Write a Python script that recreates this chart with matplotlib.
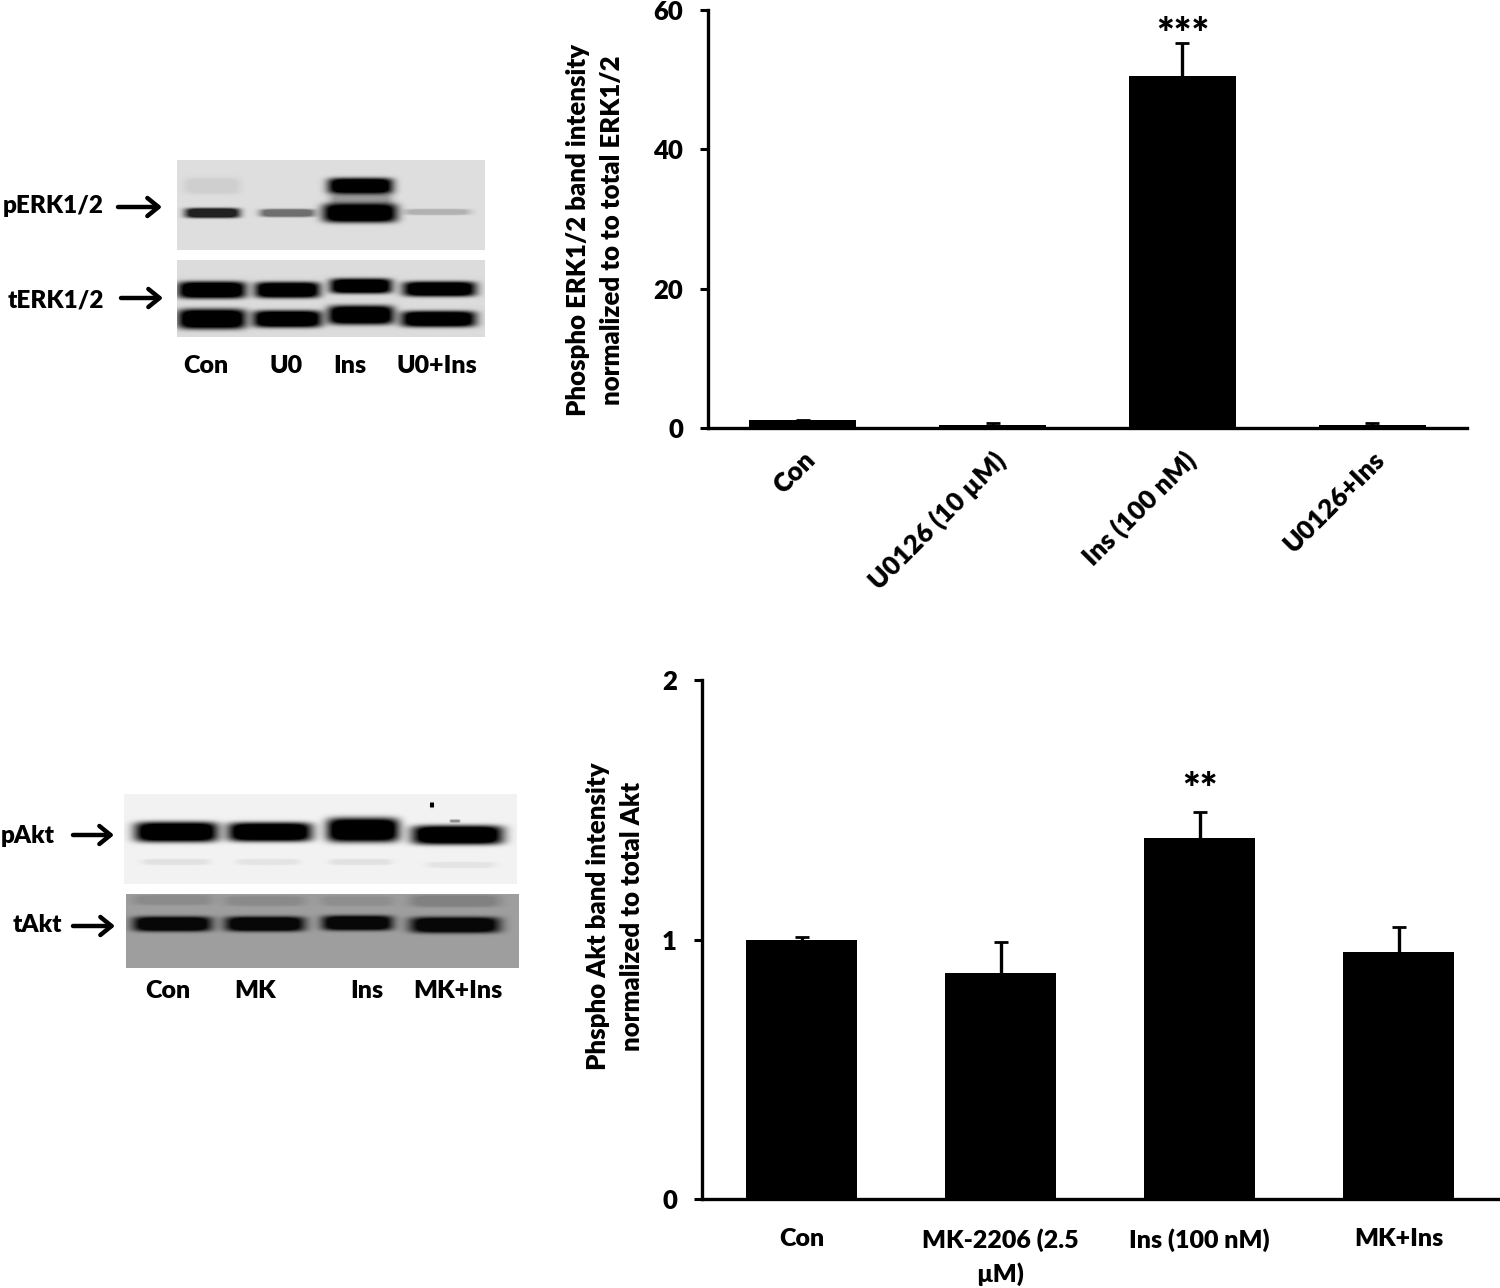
import matplotlib
matplotlib.use('Agg')
import matplotlib.pyplot as plt
import numpy as np

plt.rcParams['font.family'] = ['Lato', 'DejaVu Sans']
plt.rcParams['font.weight'] = 'heavy'

W, H = 1500, 1288

# bar chart values
erk_labels = ["Con", "U0126 (10 µM)", "Ins (100 nM)", "U0126+Ins"]
erk_values = [1.1, 0.5, 50.5, 0.5]
erk_errors = [0.0, 0.2, 4.8, 0.2]
erk_ticks = [0, 20, 40, 60]

akt_labels = ["Con", "MK-2206 (2.5\nµM)", "Ins (100 nM)", "MK+Ins"]
akt_values = [1.0, 0.87, 1.39, 0.95]
akt_errors = [0.01, 0.12, 0.10, 0.10]
akt_ticks = [0, 1, 2]

# blot bands: x0, x1, y centre, half height, darkness
perk_bands = [(185, 240, 213, 5, 0.85), (260, 315, 213, 4, 0.5), (328, 393, 186, 8, 1.0),
              (323, 397, 213, 9.5, 1.0), (330, 392, 200, 7, 0.3), (405, 470, 212, 3, 0.2),
              (185, 240, 186, 8, 0.07)]
terk_bands = [(178, 246, 290, 8.5, 1.0), (255, 320, 290, 8, 1.0), (330, 392, 286, 7.5, 1.0), (403, 476, 289, 7.5, 1.0),
              (178, 246, 319, 10, 1.0), (253, 322, 319, 8.5, 1.0), (328, 394, 315, 9.5, 1.0), (401, 476, 319, 8, 1.0)]
pakt_bands = [(135, 218, 832, 10, 1.0), (228, 312, 832, 9.5, 1.0), (327, 399, 830, 12, 1.0), (412, 503, 835, 9.5, 1.0),
              (143, 210, 862, 3, 0.07), (237, 300, 862, 3, 0.06), (330, 392, 862, 3, 0.07), (428, 495, 865, 3, 0.06),
              (430, 434, 805, 2.5, 1.0), (450, 460, 821, 1.5, 0.4)]
takt_bands = [(133, 212, 924, 7.5, 0.95), (225, 305, 924, 7.5, 0.95), (322, 393, 923, 7.5, 0.95), (410, 500, 925, 8, 0.95),
              (133, 212, 900, 5, 0.12), (225, 305, 901, 5, 0.12), (322, 393, 901, 5, 0.1), (410, 500, 901, 6, 0.18)]


def px_axes(fig, left, top, right, bottom):
    return fig.add_axes([left / W, 1 - bottom / H, (right - left) / W, (bottom - top) / H])


def draw_blot(ax, extent, bg, bands):
    x0, x1, y0, y1 = extent
    xs, ys = np.meshgrid(np.arange(x0, x1) + 0.5, np.arange(y0, y1) + 0.5)
    img = np.full(xs.shape, bg, dtype=float)
    for bx0, bx1, cy, hh, dark in bands:
        cx, hw = (bx0 + bx1) / 2, (bx1 - bx0) / 2
        band = np.exp(-np.abs((xs - cx) / hw) ** 6) * np.exp(-np.abs((ys - cy) / hh) ** 4)
        band = np.minimum(band * 1.4, 1)
        img = img * (1 - dark * band)
    ax.imshow(img, cmap='gray', vmin=0, vmax=1, extent=(x0, x1, y1, y0), aspect='auto', interpolation='bilinear')


def draw_bars(ax, labels, values, errors, ticks, bar_width):
    x = np.arange(len(values))
    ax.bar(x, values, width=bar_width, color='black')
    eb = ax.errorbar(x, values, yerr=[[0] * len(errors), errors], fmt='none', ecolor='black', elinewidth=2.4, capsize=5, capthick=2)
    eb[1][0].set_visible(False)  # lower caps would stick out of the bar tops
    ax.set_xlim(-0.5, len(values) - 0.5)
    ax.set_ylim(ticks[0], ticks[-1])
    ax.set_yticks(ticks)
    ax.set_xticks(x)
    ax.set_xticklabels(labels, linespacing=1.55)
    for side in ['top', 'right']:
        ax.spines[side].set_visible(False)
    for side in ['left', 'bottom']:
        ax.spines[side].set_linewidth(2.4)
    ax.tick_params(axis='y', length=6, width=2.2, labelsize=18.5, pad=12)
    ax.tick_params(axis='x', length=0, labelsize=18)
    ax.patch.set_alpha(0)


fig = plt.figure(figsize=(15, 12.88), dpi=100)

# overlay in picture pixels for the blots and their labels
ov = fig.add_axes([0, 0, 1, 1])
draw_blot(ov, (177, 485, 160, 250), 0.87, perk_bands)
draw_blot(ov, (177, 485, 260, 337), 0.86, terk_bands)
draw_blot(ov, (124, 517, 794, 884), 0.95, pakt_bands)
draw_blot(ov, (126, 519, 894, 968), 0.62, takt_bands)
ov.set_xlim(0, W)
ov.set_ylim(H, 0)
ov.axis('off')

for txt, x, y in [("pERK1/2", 53, 206), ("tERK1/2", 56, 300), ("pAkt", 28, 836), ("tAkt", 37, 925)]:
    ov.text(x, y, txt, ha='center', va='center', fontsize=17.5)
for x0, x1, y in [(118, 162, 207), (121, 163, 298), (73, 114, 835), (73, 115, 926)]:
    ov.annotate("", xy=(x1, y), xytext=(x0, y),
                arrowprops=dict(arrowstyle='->,head_length=0.8,head_width=0.65', color='black', lw=3.2, shrinkA=0, shrinkB=0))
for txt, x, y in [("Con", 206, 366), ("U0", 286, 366), ("Ins", 350, 366), ("U0+Ins", 437, 366),
                  ("Con", 168, 991), ("MK", 255, 991), ("Ins", 367, 991), ("MK+Ins", 458, 991)]:
    ov.text(x, y, txt, ha='center', va='center', fontsize=18)

# top chart
ax1 = px_axes(fig, 708, 10, 1467, 428)
draw_bars(ax1, erk_labels, erk_values, erk_errors, erk_ticks, 0.565)
ax1.set_xticklabels(erk_labels, rotation=45, ha='right', rotation_mode='anchor')
ax1.tick_params(axis='x', pad=14, labelsize=19)
ax1.text(2, 53.6, "***", ha='center', va='bottom', fontsize=30)
ov.text(595, 230, "Phospho ERK1/2 band intensity\nnormalized to to total ERK1/2", rotation=90,
        ha='center', va='center', fontsize=18.5, linespacing=1.5)

# bottom chart
ax2 = px_axes(fig, 702, 680, 1498, 1199)
draw_bars(ax2, akt_labels, akt_values, akt_errors, akt_ticks, 0.56)
ax2.tick_params(axis='x', pad=21)
ax2.text(2, 1.50, "**", ha='center', va='bottom', fontsize=30)
ov.text(615, 916, "Phspho Akt band intensity\nnormalized to total Akt", rotation=90,
        ha='center', va='center', fontsize=18.5, linespacing=1.5)

plt.savefig("out.png", dpi=100)
plt.close()
